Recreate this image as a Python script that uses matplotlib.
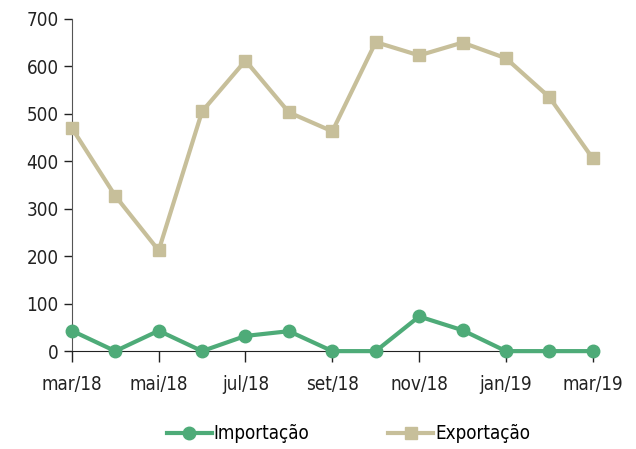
import matplotlib
matplotlib.use("Agg")
import matplotlib.pyplot as plt

months = ["mar/18", "abr/18", "mai/18", "jun/18", "jul/18", "ago/18", "set/18",
          "out/18", "nov/18", "dez/18", "jan/19", "fev/19", "mar/19"]
importacao = [43, 0, 43, 0, 32, 42, 0, 0, 73, 44, 0, 0, 0]
exportacao = [470, 327, 212, 505, 612, 503, 463, 651, 623, 650, 617, 535, 406]

plt.rcParams["font.family"] = ["DejaVu Sans"]
plt.rcParams["font.stretch"] = "condensed"

GREEN = "#4eab78"
TAN = "#c7bf9a"

fig = plt.figure(figsize=(6.36, 4.49), dpi=100)
ax = fig.add_axes([0.113, 0.218, 0.819, 0.740])

x = list(range(len(months)))
ax.plot(x, importacao, color=GREEN, lw=3, marker="o", ms=9, label="Importação", clip_on=False, zorder=3)
ax.plot(x, exportacao, color=TAN, lw=3, marker="s", ms=8, label="Exportação", clip_on=False, zorder=3)

ax.set_xlim(0, 12)
ax.set_ylim(0, 700)
ax.set_yticks(range(0, 701, 100))
ax.set_xticks(x[::2])
ax.set_xticklabels(months[::2])
ax.tick_params(axis="both", labelsize=13.5, colors="#222222", length=6, width=1)
ax.tick_params(axis="x", pad=9, length=8)
for s in ["top", "right"]:
    ax.spines[s].set_visible(False)
ax.spines["left"].set_color("#555555")
ax.spines["bottom"].set_color("#222222")

fig.legend(loc="lower center", ncol=2, frameon=False, fontsize=13.5,
           bbox_to_anchor=(0.548, -0.025), handlelength=2.4, columnspacing=4.2, handletextpad=0.1)

fig.savefig("out.png", dpi=100)
